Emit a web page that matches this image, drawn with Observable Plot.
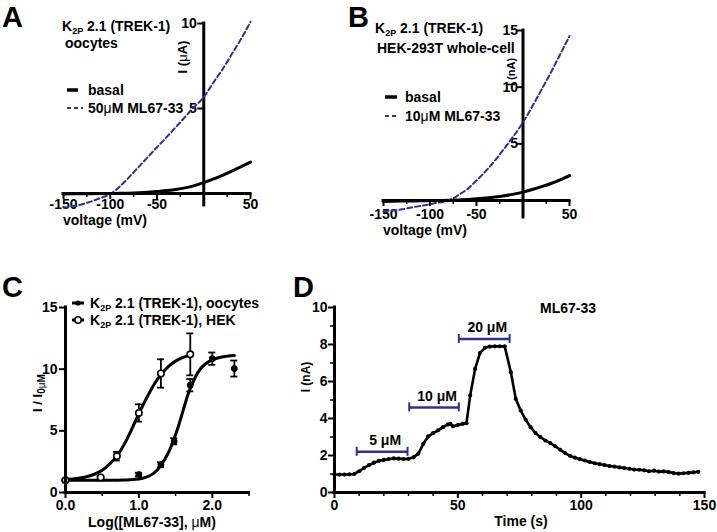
<!DOCTYPE html>
<html><head><meta charset="utf-8">
<script src="https://cdn.jsdelivr.net/npm/d3@7"></script>
<script src="https://cdn.jsdelivr.net/npm/@observablehq/plot@0.6"></script>
<style>
body{margin:0;background:#fff}
#fig{position:relative;width:717px;height:532px;overflow:hidden;background:#fff}
#fig svg{position:absolute;left:0;top:0}
</style></head><body><div id="fig"></div>
<script>
// ---------- DATA ----------
// Panels A & B: I-V relations
const voltage = [-150,-140,-130,-120,-110,-100,-90,-80,-70,-60,-50,-40,-30,-20,-10,0,10,20,30,40,50];
const aBasal  = [-0.03,-0.02,-0.02,-0.01,0,0,0.01,0.02,0.04,0.07,0.12,0.17,0.24,0.33,0.46,0.64,0.84,1.07,1.32,1.58,1.85];
const aDrug   = [-0.82,-0.75,-0.63,-0.46,-0.26,-0.03,0.4,0.95,1.54,2.13,2.72,3.3,3.9,4.5,5.1,5.67,6.5,7.3,8.2,9.1,10.1];
const bBasal  = [-0.08,-0.06,-0.05,-0.04,-0.03,-0.01,0,0.02,0.05,0.09,0.15,0.22,0.3,0.41,0.56,0.74,0.97,1.22,1.5,1.82,2.2];
const bDrug   = [-0.94,-0.88,-0.78,-0.62,-0.48,-0.33,-0.18,-0.02,0.45,1.0,1.76,2.6,3.55,4.6,5.7,6.9,8.3,9.8,11.3,12.9,14.5];
const ivXTicks = [-150,-100,-50,50];
const ivXLabels = ["-150","-100","-50","50"];
const ivXMinor = [-125,-75,-25,25];
const aYTicks = [5,10], aYLabels = ["5","10"];
const bYTicks = [5,10,15], bYLabels = ["5","10","15"];

// Panel C: concentration-response
const hekLogConc = [0,0.48,0.7,1.0,1.3,1.7];
const hekMean    = [1.0,1.22,2.95,6.45,9.65,11.2];
const hekSem     = [0.05,0.1,0.35,0.7,1.15,1.7];
const oocLogConc = [0,1.0,1.3,1.48,1.7,2.0,2.3];
const oocMean    = [1.0,1.45,2.25,4.15,8.7,10.85,10.05];
const oocSem     = [0.05,0.15,0.2,0.25,0.5,0.5,0.65];
const hekFitX = [0,0.1,0.2,0.3,0.4,0.5,0.6,0.7,0.8,0.9,1.0,1.1,1.2,1.3,1.4,1.5,1.6,1.7];
const hekFitY = [1.05,1.1,1.18,1.3,1.5,1.8,2.3,2.95,3.9,5.1,6.4,7.6,8.7,9.55,10.2,10.65,10.95,11.15];
const oocFitX = [0,0.2,0.4,0.6,0.8,0.9,1.0,1.1,1.2,1.3,1.4,1.45,1.5,1.55,1.6,1.65,1.7,1.8,1.9,2.0,2.1,2.2,2.3];
const oocFitY = [1.0,1.0,1.0,1.0,1.02,1.05,1.1,1.25,1.55,2.2,3.2,3.9,4.7,5.6,6.6,7.6,8.45,9.7,10.4,10.75,10.95,11.05,11.1];
const cXTicks = [0,1,2], cXLabels = ["0.0","1.0","2.0"], cXMinor = [0.5,1.5,2.5];
const cYTicks = [0,5,10,15], cYLabels = ["0","5","10","15"];

// Panel D: time course
const dTime = [0,2,4,6,8,10,12,14,16,18,20,22,24,26,28,30,32,34,36,38,40,42,44,46,47,48,50,52,53.5,55,57,59,61,63,65,67,69,
  71.5,73.5,75.5,77.5,79.5,81.5,83.5,85.5,87.5,89.5,91.5,93.5,95.5,97.5,99.5,101.5,103.5,105.5,107.5,109.5,111.5,113.5,115.5,117.5,119.5,121.5,123.5,125.5,127.5,129.5,131.5,133.5,135.5,137.5,139.5,141.5,143.5,145.5,147.5];
const dCurrent = [0.97,0.97,0.97,0.98,1.0,1.15,1.33,1.48,1.61,1.71,1.76,1.81,1.84,1.83,1.81,1.82,1.9,2.1,2.63,3.03,3.21,3.36,3.53,3.68,3.71,3.58,3.65,3.71,3.75,5.24,6.68,7.55,7.82,7.89,7.9,7.9,7.9,
  6.5,5.06,4.43,3.93,3.53,3.21,2.99,2.81,2.67,2.5,2.31,2.13,1.98,1.88,1.8,1.73,1.65,1.58,1.53,1.48,1.43,1.4,1.36,1.32,1.28,1.24,1.23,1.2,1.15,1.18,1.13,1.14,1.1,1.05,1.02,1.04,1.06,1.09,1.12];
const barStart = [9,30.3,50.4], barEnd = [29.6,50.4,71], barLevel = [2.2,4.6,8.3];
const barLabel = ["5 μM","10 μM","20 μM"];
const dXTicks = [0,50,100,150], dXLabels = ["0","50","100","150"];
const dXMinor = [10,20,30,40,60,70,80,90,110,120,130,140];
const dYTicks = [0,2,4,6,8,10], dYLabels = ["0","2","4","6","8","10"];
const dYMinor = [1,3,5,7,9];

// ---------- HELPERS ----------
const W = 717, H = 532;
const BLUE = "#2e3192";
const FONT = "'Liberation Sans', Arial, Helvetica, sans-serif";
const STYLE = {fontFamily: FONT, fontSize: "14px", fontWeight: "bold", background: "none", overflow: "visible", color: "black"};

function axes({xT, xL, xM = [], yT, yL, yM = [], xDy, yDx}) {
  return [
    Plot.ruleX(xT, {x: d => d, y1: 0, y2: 0, insetBottom: -6, stroke: "black", strokeWidth: 2}),
    Plot.ruleX(xM, {x: d => d, y1: 0, y2: 0, insetBottom: -4, stroke: "black", strokeWidth: 1.5}),
    Plot.ruleY(yT, {y: d => d, x1: 0, x2: 0, insetLeft: -6, stroke: "black", strokeWidth: 2}),
    Plot.ruleY(yM, {y: d => d, x1: 0, x2: 0, insetLeft: -4, stroke: "black", strokeWidth: 1.5}),
    Plot.ruleY([0], {stroke: "black", strokeWidth: 3, strokeLinecap: "square"}),
    Plot.ruleX([0], {stroke: "black", strokeWidth: 3, strokeLinecap: "square"}),
    Plot.text(xT, {x: d => d, y: 0, dy: xDy, text: (d, i) => xL[i], fill: "black"}),
    Plot.text(yT, {x: 0, y: d => d, dx: yDx, textAnchor: "end", text: (d, i) => yL[i], fill: "black"})
  ];
}

// rich text: parts are strings or {t, sub, normal, size}
function rich(g, x, y, parts, opt = {}) {
  const t = g.append("text").attr("x", x).attr("y", y)
    .attr("font-size", opt.size || 14).attr("font-weight", "bold")
    .attr("font-family", FONT).attr("fill", "black")
    .attr("text-anchor", opt.anchor || "start");
  if (opt.rotate) t.attr("transform", `rotate(-90 ${x} ${y})`);
  let shifted = 0;
  for (const p of parts) {
    const o = typeof p === "string" ? {t: p} : p;
    const s = t.append("tspan").text(o.t);
    const want = o.sub ? 2.5 : 0;
    if (want !== shifted) { s.attr("dy", want - shifted); shifted = want; }
    if (o.sub) s.attr("font-size", o.size || 9);
    if (o.normal) s.attr("font-weight", "normal");
  }
  return t;
}
function annot(draw) {
  return () => { const g = d3.create("svg:g"); draw(g); return g.node(); };
}
function legLine(g, x1, x2, y, opt = {}) {
  g.append("line").attr("x1", x1).attr("x2", x2).attr("y1", y).attr("y2", y)
    .attr("stroke", opt.stroke || "black").attr("stroke-width", opt.width || 3.5)
    .attr("stroke-dasharray", opt.dash || null);
}

const fig = document.getElementById("fig");
const ivA = voltage.map((v, i) => ({v, basal: aBasal[i], drug: aDrug[i]}));
const ivB = voltage.map((v, i) => ({v, basal: bBasal[i], drug: bDrug[i]}));

// ---------- PANEL A ----------
fig.append(Plot.plot({
  width: W, height: H, marginLeft: 63, marginRight: W - 250, marginTop: 23, marginBottom: H - 204.9,
  x: {domain: [-150, 50], axis: null}, y: {domain: [-0.7, 10], axis: null}, style: STYLE,
  marks: [
    ...axes({xT: ivXTicks, xL: ivXLabels, xM: ivXMinor, yT: aYTicks, yL: aYLabels, xDy: 11, yDx: -7}),
    Plot.line(ivA, {x: "v", y: "drug", stroke: BLUE, strokeWidth: 2, strokeDasharray: "5,3", curve: "natural"}),
    Plot.line(ivA, {x: "v", y: "basal", stroke: "black", strokeWidth: 3, curve: "natural"}),
    annot(g => {
      rich(g, 2, 27, ["A"], {size: 29});
      rich(g, 62, 31, ["K", {t: "2P", sub: true}, " 2.1 (TREK-1)"]);
      rich(g, 65, 48, ["oocytes"]);
      legLine(g, 67, 78, 90);
      rich(g, 88, 95, ["basal"]);
      legLine(g, 67, 83, 108, {stroke: BLUE, width: 2, dash: "4,3"});
      rich(g, 88, 113, ["50", {t: "μ", normal: true}, "M ML67-33"]);
      rich(g, 187, 57, ["I (", {t: "μ", normal: true}, "A)"], {rotate: true, anchor: "middle", size: 13});
      rich(g, 63, 225, ["voltage (mV)"]);
    })
  ]
}));

// ---------- PANEL B ----------
fig.append(Plot.plot({
  width: W, height: H, marginLeft: 383, marginRight: W - 569, marginTop: 30, marginBottom: H - 217,
  x: {domain: [-150, 50], axis: null}, y: {domain: [-1.5, 15], axis: null}, style: STYLE,
  marks: [
    ...axes({xT: ivXTicks, xL: ivXLabels, xM: ivXMinor, yT: bYTicks, yL: bYLabels, xDy: 14.5, yDx: -5}),
    Plot.line(ivB, {x: "v", y: "drug", stroke: BLUE, strokeWidth: 2, strokeDasharray: "5,3", curve: "natural"}),
    Plot.line(ivB, {x: "v", y: "basal", stroke: "black", strokeWidth: 3, curve: "natural"}),
    annot(g => {
      rich(g, 348, 27, ["B"], {size: 29});
      rich(g, 375, 33, ["K", {t: "2P", sub: true}, " 2.1 (TREK-1)"]);
      rich(g, 377, 53, ["HEK-293T whole-cell"]);
      legLine(g, 385, 397, 97);
      rich(g, 405, 102, ["basal"]);
      legLine(g, 385, 399, 116, {stroke: BLUE, width: 2, dash: "4,3"});
      rich(g, 405, 121, ["10", {t: "μ", normal: true}, "M ML67-33"]);
      rich(g, 515, 72, ["I (nA)"], {rotate: true, anchor: "middle", size: 11});
      rich(g, 383, 235, ["voltage (mV)"]);
    })
  ]
}));

// ---------- PANEL C ----------
const hekPts = hekLogConc.map((x, i) => ({x, y: hekMean[i], lo: hekMean[i] - hekSem[i], hi: hekMean[i] + hekSem[i]}));
const oocPts = oocLogConc.map((x, i) => ({x, y: oocMean[i], lo: oocMean[i] - oocSem[i], hi: oocMean[i] + oocSem[i]}));
const hekFit = hekFitX.map((x, i) => ({x, y: hekFitY[i]}));
const oocFit = oocFitX.map((x, i) => ({x, y: oocFitY[i]}));
const errMarks = pts => [
  Plot.ruleX(pts, {x: "x", y1: "lo", y2: "hi", stroke: "black", strokeWidth: 1.8}),
  Plot.ruleY(pts, {y: "hi", x1: "x", x2: "x", insetLeft: -3.5, insetRight: -3.5, stroke: "black", strokeWidth: 1.8}),
  Plot.ruleY(pts, {y: "lo", x1: "x", x2: "x", insetLeft: -3.5, insetRight: -3.5, stroke: "black", strokeWidth: 1.8})
];
fig.append(Plot.plot({
  width: W, height: H, marginLeft: 65, marginRight: W - 248.5, marginTop: 307, marginBottom: 40,
  x: {domain: [0, 2.5], axis: null}, y: {domain: [0, 15], axis: null}, style: STYLE,
  marks: [
    ...errMarks(oocPts),
    ...errMarks(hekPts),
    Plot.line(oocFit, {x: "x", y: "y", stroke: "black", strokeWidth: 3, curve: "natural"}),
    Plot.line(hekFit, {x: "x", y: "y", stroke: "black", strokeWidth: 3, curve: "natural"}),
    Plot.dot(oocPts, {x: "x", y: "y", r: 2.6, fill: "black", stroke: "black"}),
    Plot.dot(hekPts, {x: "x", y: "y", r: 3.2, fill: "white", stroke: "black", strokeWidth: 1.6}),
    ...axes({xT: cXTicks, xL: cXLabels, xM: cXMinor, yT: cYTicks, yL: cYLabels, xDy: 13, yDx: -8}),
    annot(g => {
      rich(g, 2, 297, ["C"], {size: 29});
      legLine(g, 72, 84, 303, {width: 3});
      g.append("circle").attr("cx", 78).attr("cy", 303).attr("r", 2.6).attr("fill", "black");
      rich(g, 90, 308, ["K", {t: "2P", sub: true}, " 2.1 (TREK-1), oocytes"]);
      legLine(g, 72, 84, 320, {width: 3});
      g.append("circle").attr("cx", 78).attr("cy", 320).attr("r", 3.2).attr("fill", "white").attr("stroke", "black").attr("stroke-width", 1.6);
      rich(g, 90, 325, ["K", {t: "2P", sub: true}, " 2.1 (TREK-1), HEK"]);
      rich(g, 42, 393, ["I / I", {t: "0", sub: true, size: 10}, {t: "μ", sub: true, size: 10, normal: true}, {t: "M", sub: true, size: 10}], {rotate: true, anchor: "middle", size: 13});
      rich(g, 152, 527, ["Log([ML67-33], ", {t: "μ", normal: true}, "M)"], {anchor: "middle"});
    })
  ]
}));

// ---------- PANEL D ----------
const trace = dTime.map((t, i) => ({t, I: dCurrent[i]}));
const bars = barStart.map((s, i) => ({s, e: barEnd[i], y: barLevel[i], mid: (s + barEnd[i]) / 2, label: barLabel[i]}));
fig.append(Plot.plot({
  width: W, height: H, marginLeft: 334, marginRight: W - 704, marginTop: 307, marginBottom: 40,
  x: {domain: [0, 150], axis: null}, y: {domain: [0, 10], axis: null}, style: STYLE,
  marks: [
    ...axes({xT: dXTicks, xL: dXLabels, xM: dXMinor, yT: dYTicks, yL: dYLabels, yM: dYMinor, xDy: 13, yDx: -7}),
    Plot.line(trace, {x: "t", y: "I", stroke: "black", strokeWidth: 2.6}),
    Plot.dot(trace, {x: "t", y: "I", r: 2.1, fill: "black"}),
    Plot.ruleY(bars, {y: "y", x1: "s", x2: "e", stroke: BLUE, strokeWidth: 2.5}),
    Plot.ruleX(bars, {x: "s", y1: "y", y2: "y", insetTop: -4.5, insetBottom: -4.5, stroke: BLUE, strokeWidth: 2}),
    Plot.ruleX(bars, {x: "e", y1: "y", y2: "y", insetTop: -4.5, insetBottom: -4.5, stroke: BLUE, strokeWidth: 2}),
    Plot.text(bars, {x: "mid", y: "y", dy: -11, dx: 3, text: "label", fill: "black"}),
    annot(g => {
      rich(g, 293, 297, ["D"], {size: 29});
      rich(g, 568, 313, ["ML67-33"], {anchor: "middle"});
      rich(g, 310, 377, ["I (nA)"], {rotate: true, anchor: "middle", size: 12});
      rich(g, 521, 526, ["Time (s)"], {anchor: "middle"});
    })
  ]
}));
</script></body></html>
